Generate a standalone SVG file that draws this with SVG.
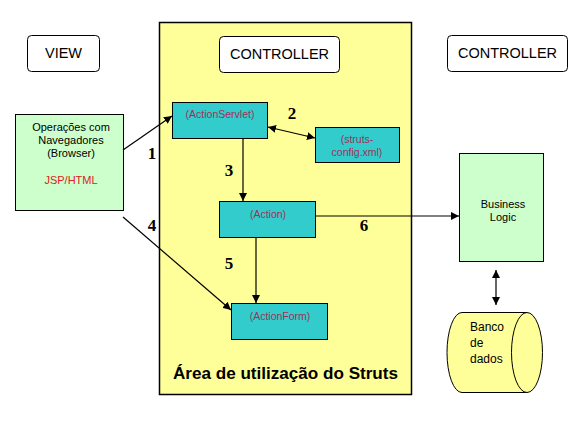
<svg xmlns="http://www.w3.org/2000/svg" width="578" height="428" viewBox="0 0 578 428">
<style>
.hdr{fill:#fff;stroke:#000;stroke-width:1}
.ht{font-family:"Liberation Sans",Arial,sans-serif;font-size:14.5px;fill:#000;text-anchor:middle}
.cy{fill:#33cccc;stroke:#000;stroke-width:1}
.ct{font-family:"Liberation Sans",Arial,sans-serif;font-size:10.5px;fill:#a0305a;text-anchor:middle}
.gt{font-family:"Liberation Sans",Arial,sans-serif;font-size:11px;fill:#000;text-anchor:middle}
.num{font-family:"Liberation Serif","Times New Roman",serif;font-weight:bold;font-size:17px;fill:#000;text-anchor:middle}
.ln{stroke:#000;stroke-width:1.2;fill:none}
</style>
<defs>
<marker id="ah" viewBox="0 0 10 10" refX="10" refY="5" markerWidth="8" markerHeight="8" markerUnits="userSpaceOnUse" orient="auto-start-reverse">
<path d="M0,0 L10,5 L0,10 z" fill="#000"/>
</marker>
</defs>
<rect x="0" y="0" width="578" height="428" fill="#fff"/>
<g id="area">
<rect x="159.5" y="22.5" width="252" height="372" fill="#ffff99" stroke="#000" stroke-width="1.5"/>
<text x="285.5" y="379" font-family="'Liberation Sans',Arial,sans-serif" font-weight="bold" font-size="16" text-anchor="middle" textLength="225" lengthAdjust="spacingAndGlyphs">Área de utilização do Struts</text>
</g>
<g id="view-label">
<rect class="hdr" x="27.5" y="35.5" width="72" height="36" rx="4"/>
<text class="ht" x="63.5" y="58">VIEW</text>
</g>
<g id="controller-label">
<rect class="hdr" x="219.5" y="36.5" width="120" height="36" rx="4"/>
<text class="ht" x="279.5" y="59">CONTROLLER</text>
</g>
<g id="controller-label-2">
<rect class="hdr" x="447.5" y="35.5" width="120" height="36" rx="4"/>
<text class="ht" x="507.5" y="58">CONTROLLER</text>
</g>
<g id="browser">
<rect x="15.5" y="114.5" width="108" height="96" fill="#ccffcc" stroke="#000" stroke-width="1"/>
<text class="gt" x="71" y="131">Operações com</text>
<text class="gt" x="71" y="144">Navegadores</text>
<text class="gt" x="71" y="157">(Browser)</text>
<text class="gt" x="71" y="184" fill="#e02020" style="fill:#e02020">JSP/HTML</text>
</g>
<g id="actionservlet">
<rect class="cy" x="172.5" y="102.5" width="95" height="36"/>
<text class="ct" x="220" y="118">(ActionServlet)</text>
</g>
<g id="strutsconfig">
<rect class="cy" x="315.5" y="127.5" width="84" height="35"/>
<text class="ct" x="357" y="143">(struts-</text>
<text class="ct" x="357" y="156">config.xml)</text>
</g>
<g id="action">
<rect class="cy" x="219.5" y="201.5" width="96" height="36"/>
<text class="ct" x="268" y="218">(Action)</text>
</g>
<g id="actionform">
<rect class="cy" x="231.5" y="303.5" width="96" height="36"/>
<text class="ct" x="280" y="320">(ActionForm)</text>
</g>
<g id="business">
<rect x="459.5" y="153.5" width="84" height="108" fill="#ccffcc" stroke="#000" stroke-width="1"/>
<text class="gt" x="503" y="208">Business</text>
<text class="gt" x="503" y="221">Logic</text>
</g>
<g id="database">
<path d="M527,312.5 L462,312.5 A15,40 0 0 0 462,392.5 L527,392.5" fill="#ffff99" stroke="#000" stroke-width="1"/>
<ellipse cx="527" cy="352.5" rx="15.5" ry="40" fill="#ffff99" stroke="#000" stroke-width="1"/>
<text font-family="'Liberation Sans',Arial,sans-serif" font-size="12" x="470" y="331">Banco</text>
<text font-family="'Liberation Sans',Arial,sans-serif" font-size="12" x="470" y="347">de</text>
<text font-family="'Liberation Sans',Arial,sans-serif" font-size="12" x="470" y="363">dados</text>
</g>
<g id="connectors">
<line class="ln" x1="123" y1="150" x2="172" y2="116" marker-end="url(#ah)"/>
<line class="ln" x1="268" y1="127" x2="315" y2="138" marker-start="url(#ah)" marker-end="url(#ah)"/>
<line class="ln" x1="243" y1="138.5" x2="243" y2="201" marker-end="url(#ah)"/>
<line class="ln" x1="256" y1="237.5" x2="256" y2="303" marker-end="url(#ah)"/>
<line class="ln" x1="123" y1="217" x2="231" y2="310" marker-end="url(#ah)"/>
<line class="ln" x1="315.5" y1="216" x2="459" y2="216" marker-end="url(#ah)"/>
<line class="ln" x1="496" y1="270" x2="496" y2="305" marker-start="url(#ah)" marker-end="url(#ah)"/>
<text class="num" x="152" y="159">1</text>
<text class="num" x="292" y="119">2</text>
<text class="num" x="229" y="176">3</text>
<text class="num" x="152" y="231">4</text>
<text class="num" x="229" y="269">5</text>
<text class="num" x="364" y="231">6</text>
</g>
</svg>
